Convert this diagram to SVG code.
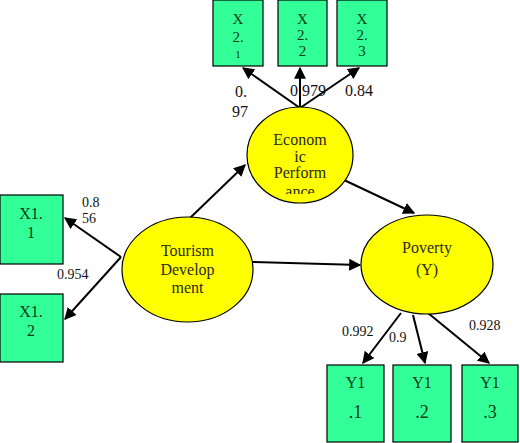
<svg xmlns="http://www.w3.org/2000/svg" width="520" height="443" viewBox="0 0 520 443">
<style>
.box{fill:#33ff99;stroke:#000;stroke-width:1.2}
.lat{fill:#ffff00;stroke:#000;stroke-width:1.2}
.bt{font-family:"Liberation Serif",serif;font-size:16px;fill:#0b3d12;text-anchor:middle}
.lt{font-family:"Liberation Serif",serif;font-size:16px;fill:#2b2b10;text-anchor:middle}
.lbl{font-family:"Liberation Serif",serif;font-size:14px;fill:#111}
.con line{stroke:#000;stroke-width:2;marker-end:url(#ah)}
</style>
<defs>
<marker id="ah" viewBox="0 0 10 10" refX="9" refY="5" markerWidth="6" markerHeight="6" orient="auto" markerUnits="strokeWidth">
<path d="M0,0 L10,5 L0,10 Z" fill="#000"/>
</marker>
<clipPath id="ecClip"><rect x="240" y="100" width="120" height="94"/></clipPath>
</defs>
<rect width="520" height="443" fill="#fff"/>
<g class="con">
<line x1="300" y1="108" x2="243" y2="68"/>
<line x1="300" y1="108" x2="300" y2="68"/>
<line x1="300" y1="108" x2="359" y2="68"/>
<line x1="121" y1="257" x2="65" y2="218"/>
<line x1="121" y1="257" x2="65" y2="319"/>
<line x1="190" y1="218" x2="245" y2="165"/>
<line x1="344" y1="180" x2="414" y2="213"/>
<line x1="253" y1="262" x2="360" y2="265"/>
<line x1="401" y1="313" x2="363" y2="363"/>
<line x1="413" y1="315" x2="425" y2="363"/>
<line x1="428" y1="313" x2="489" y2="363"/>
</g>
<g id="x21"><rect class="box" x="213" y="0" width="50" height="66"/><text class="bt" x="238" y="24" style="font-size:15px">X</text><text class="bt" x="238" y="42" style="font-size:15px">2.</text><text class="bt" x="238" y="58" style="font-size:11px">1</text></g>
<g id="x22"><rect class="box" x="278" y="0" width="49" height="66"/><text class="bt" x="302.5" y="24" style="font-size:15px">X</text><text class="bt" x="302.5" y="40" style="font-size:15px">2.</text><text class="bt" x="302.5" y="56" style="font-size:15px">2</text></g>
<g id="x23"><rect class="box" x="337" y="0" width="50" height="66"/><text class="bt" x="362" y="24" style="font-size:15px">X</text><text class="bt" x="362" y="40" style="font-size:15px">2.</text><text class="bt" x="362" y="56" style="font-size:15px">3</text></g>
<g id="labels-top">
<text class="lbl" x="235" y="97" style="font-size:16px">0.</text>
<text class="lbl" x="232" y="117" style="font-size:16px">97</text>
<text class="lbl" x="290" y="96" style="font-size:16px">0.979</text>
<text class="lbl" x="345" y="96" style="font-size:16px">0.84</text>
</g>
<g id="econ"><ellipse class="lat" cx="300" cy="155" rx="53" ry="48"/>
<g clip-path="url(#ecClip)"><text class="lt" x="300" y="145">Econom</text><text class="lt" x="300" y="162">ic</text><text class="lt" x="300" y="178">Perform</text><text class="lt" x="300" y="197">ance</text></g></g>
<g id="x11"><rect class="box" x="0" y="195" width="63" height="69"/><text class="bt" x="31" y="219">X1.</text><text class="bt" x="31" y="238">1</text></g>
<g id="x12"><rect class="box" x="0" y="294" width="63" height="68"/><text class="bt" x="31" y="317">X1.</text><text class="bt" x="31" y="336">2</text></g>
<g id="labels-left">
<text class="lbl" x="82" y="207">0.8</text>
<text class="lbl" x="82" y="223">56</text>
<text class="lbl" x="57" y="279">0.954</text>
</g>
<g id="tourism"><ellipse class="lat" cx="187.5" cy="269.5" rx="65.5" ry="52.5"/><text class="lt" x="187.5" y="256">Tourism</text><text class="lt" x="187.5" y="275">Develop</text><text class="lt" x="187.5" y="293">ment</text></g>
<g id="poverty"><ellipse class="lat" cx="427" cy="264.5" rx="66" ry="49.5"/><text class="lt" x="427" y="253">Poverty</text><text class="lt" x="427" y="275">(Y)</text></g>
<g id="labels-bottom">
<text class="lbl" x="342" y="336">0.992</text>
<text class="lbl" x="389" y="342">0.9</text>
<text class="lbl" x="469" y="330">0.928</text>
</g>
<g id="y11"><rect class="box" x="327" y="365" width="57" height="77"/><text class="bt" x="355.5" y="388">Y1</text><text class="bt" x="355.5" y="418" style="font-size:18px">.1</text></g>
<g id="y12"><rect class="box" x="393" y="365" width="58" height="77"/><text class="bt" x="422" y="388">Y1</text><text class="bt" x="422" y="418" style="font-size:18px">.2</text></g>
<g id="y13"><rect class="box" x="462" y="365" width="56" height="77"/><text class="bt" x="490" y="388">Y1</text><text class="bt" x="490" y="418" style="font-size:18px">.3</text></g>
</svg>
